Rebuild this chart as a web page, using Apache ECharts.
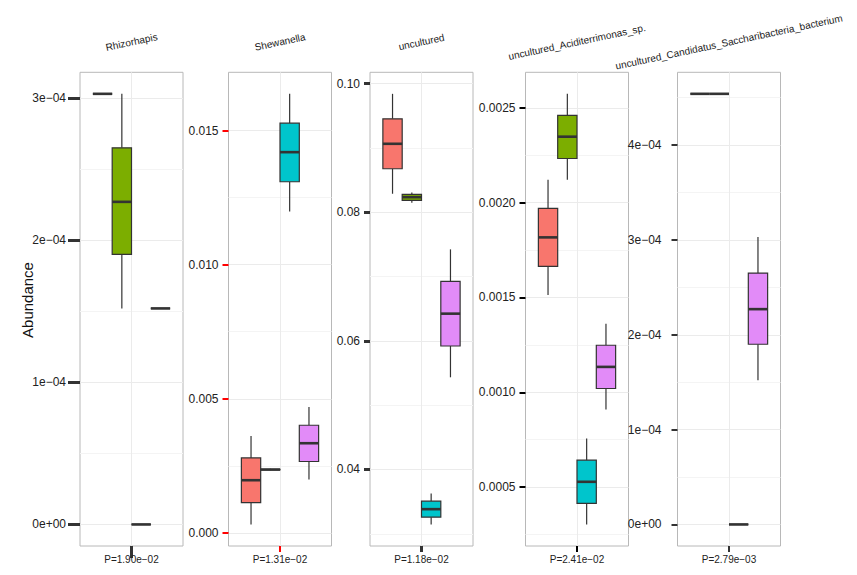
<!DOCTYPE html>
<html>
<head>
<meta charset="utf-8">
<script src="https://cdn.jsdelivr.net/npm/echarts@6/dist/echarts.min.js"></script>
<style>html,body{margin:0;padding:0;background:#fff}#c{width:857px;height:575px}</style>
</head>
<body>
<div id="c"></div>
<script>
// ---------- data ----------
const groups = ['G1', 'G2', 'G3', 'G4'];
const groupColors = ['#F8766D', '#7CAE00', '#00C5CC', '#E28BF8'];
const taxa = ['Rhizorhapis', 'Shewanella', 'uncultured', 'uncultured_Aciditerrimonas_sp.', 'uncultured_Candidatus_Saccharibacteria_bacterium'];
const pLabels = ['P=1.90e\u221202', 'P=1.31e\u221202', 'P=1.18e\u221202', 'P=2.41e\u221202', 'P=2.79e\u221203'];
// each group: [min, Q1, median, Q3, max]
const rhizorhapis = [
  [3.03e-4, 3.03e-4, 3.03e-4, 3.03e-4, 3.03e-4],
  [1.52e-4, 1.90e-4, 2.27e-4, 2.65e-4, 3.03e-4],
  [0, 0, 0, 0, 0],
  [1.52e-4, 1.52e-4, 1.52e-4, 1.52e-4, 1.52e-4]
];
const shewanella = [
  [0.000313, 0.001131, 0.001963, 0.002794, 0.003614],
  [0.00233, 0.00235, 0.00236, 0.00237, 0.00239],
  [0.011986, 0.013092, 0.014195, 0.015276, 0.01637],
  [0.00199, 0.00266, 0.003342, 0.004013, 0.004694]
];
const uncultured = [
  [0.08289, 0.08678, 0.09066, 0.09455, 0.09843],
  [0.0815, 0.08185, 0.08236, 0.08278, 0.0831],
  [0.03145, 0.03259, 0.03383, 0.03507, 0.03627],
  [0.05434, 0.05921, 0.06424, 0.06926, 0.07424]
];
const aciditerrimonas = [
  [0.001513, 0.001664, 0.001817, 0.00197, 0.002121],
  [0.002121, 0.002233, 0.002348, 0.00246, 0.002574],
  [0.000303, 0.000414, 0.000528, 0.000642, 0.000757],
  [0.000909, 0.00102, 0.001134, 0.001248, 0.001362]
];
const saccharibacteria = [
  [4.54e-4, 4.54e-4, 4.54e-4, 4.54e-4, 4.54e-4],
  [4.54e-4, 4.54e-4, 4.54e-4, 4.54e-4, 4.54e-4],
  [0, 0, 0, 0, 0],
  [1.52e-4, 1.90e-4, 2.27e-4, 2.65e-4, 3.03e-4]
];
const panelData = [rhizorhapis, shewanella, uncultured, aciditerrimonas, saccharibacteria];
const tickValues = [
  [0, 1e-4, 2e-4, 3e-4],
  [0, 0.005, 0.010, 0.015],
  [0.04, 0.06, 0.08, 0.10],
  [0.0005, 0.0010, 0.0015, 0.0020, 0.0025],
  [0, 1e-4, 2e-4, 3e-4, 4e-4]
];
const tickLabels = [
  ['0e+00', '1e\u221204', '2e\u221204', '3e\u221204'],
  ['0.000', '0.005', '0.010', '0.015'],
  ['0.04', '0.06', '0.08', '0.10'],
  ['0.0005', '0.0010', '0.0015', '0.0020', '0.0025'],
  ['0e+00', '1e\u221204', '2e\u221204', '3e\u221204', '4e\u221204']
];
const minorValues = [
  [0.5e-4, 1.5e-4, 2.5e-4],
  [0.0025, 0.0075, 0.0125],
  [0.03, 0.05, 0.07, 0.09],
  [0.00025, 0.00075, 0.00125, 0.00175, 0.00225],
  [0.5e-4, 1.5e-4, 2.5e-4, 3.5e-4, 4.5e-4]
];

// ---------- layout ----------
const FONT = '"Liberation Sans", Arial, Helvetica, sans-serif';
const panelLeft = [80, 228.5, 370, 525.5, 677.5];
const panelW = 103, panelTop = 72.3, panelH = 473.7;
const lineCol = '#333333';
const borderCol = '#b8b8b8';
// per-panel tick style trials: [color, length, width, labelMargin]
const trial = [['#333333', 12, 3, 14], ['red', 6, 2, 10], ['#333333', 6, 3, 10], ['black', 6, 2, 10], ['#333333', 6, 2, 16]];

const grid = [], xAxis = [], yAxis = [], series = [];
panelData.forEach((pd, i) => {
  const all = pd.flat();
  const lo = Math.min(...all), hi = Math.max(...all), pad = (hi - lo) * 0.05;
  const ymin = lo - pad, ymax = hi + pad;
  const L = panelLeft[i];
  const [tc, tlen, tw, tm] = trial[i];
  grid.push({left: L, top: panelTop, width: panelW, height: panelH, show: true, borderColor: borderCol, borderWidth: 1});
  grid.push({left: L + panelW * 0.15 / 1.2, top: panelTop, width: panelW * 0.9 / 1.2, height: panelH, show: false});
  xAxis.push({gridIndex: 2 * i, type: 'value', min: -1, max: 1, position: 'bottom',
    axisLine: {show: false, onZero: false},
    axisTick: {show: true, length: tlen, customValues: [0], lineStyle: {color: tc, width: tw}},
    axisLabel: {customValues: [0], formatter: () => pLabels[i], margin: 8, fontSize: 10, color: '#222', fontFamily: FONT},
    splitLine: {show: true, lineStyle: {color: '#ebebeb', width: 1}}});
  xAxis.push({gridIndex: 2 * i + 1, type: 'category', data: groups, show: false, axisLine: {onZero: false}});
  const tv = tickValues[i], tl = tickLabels[i];
  yAxis.push({gridIndex: 2 * i, type: 'value', min: ymin, max: ymax, position: 'left',
    axisLine: {show: false, onZero: false},
    axisTick: {show: true, length: tlen, customValues: tv, lineStyle: {color: tc, width: tw}},
    axisLabel: {customValues: tv, margin: tm, fontSize: 12, color: '#222', fontFamily: FONT,
      formatter: (v) => { let b = 0; tv.forEach((t, k) => { if (Math.abs(t - v) < Math.abs(tv[b] - v)) b = k; }); return tl[b]; }},
    splitLine: {show: true, lineStyle: {color: '#ebebeb', width: 1}}});
  yAxis.push({gridIndex: 2 * i, type: 'value', min: ymin, max: ymax, position: 'left',
    axisLine: {show: false, onZero: false},
    axisTick: {show: false, customValues: minorValues[i]},
    axisLabel: {show: false, customValues: minorValues[i]},
    splitLine: {show: true, lineStyle: {color: '#f4f4f4', width: 1}}});
  yAxis.push({gridIndex: 2 * i + 1, type: 'value', min: ymin, max: ymax, show: false, axisLine: {onZero: false}});
  series.push({
    type: 'custom', xAxisIndex: 2 * i + 1, yAxisIndex: 3 * i + 2,
    data: pd.map((g, gi) => [gi, ...g]),
    encode: {x: 0, y: [1, 2, 3, 4, 5]},
    renderItem: (params, api) => {
      const xi = api.value(0);
      const bw = api.size([1, 0])[0];
      const pMin = api.coord([xi, api.value(1)]);
      const pQ1 = api.coord([xi, api.value(2)]);
      const pMed = api.coord([xi, api.value(3)]);
      const pQ3 = api.coord([xi, api.value(4)]);
      const pMax = api.coord([xi, api.value(5)]);
      const cx = pMed[0], h = bw / 2;
      const thin = {stroke: lineCol, lineWidth: 1.2};
      return {type: 'group', children: [
        {type: 'line', shape: {x1: cx, y1: pQ3[1], x2: cx, y2: pMax[1]}, style: thin},
        {type: 'line', shape: {x1: cx, y1: pQ1[1], x2: cx, y2: pMin[1]}, style: thin},
        {type: 'rect', shape: {x: cx - h, y: pQ3[1], width: bw, height: pQ1[1] - pQ3[1]},
          style: {fill: groupColors[xi], stroke: lineCol, lineWidth: 1.2}},
        {type: 'line', shape: {x1: cx - h, y1: pMed[1], x2: cx + h, y2: pMed[1]}, style: {stroke: lineCol, lineWidth: 2.6}}
      ]};
    }
  });
});

const graphic = taxa.map((t, i) => ({
  type: 'text', x: panelLeft[i] + panelW / 2, y: 42, rotation: 12 * Math.PI / 180,
  style: {text: t, fontSize: 10, fontFamily: FONT, fill: '#1a1a1a', align: 'center', verticalAlign: 'middle'}
}));
graphic.push({type: 'text', x: 27, y: 300, rotation: Math.PI / 2,
  style: {text: 'Abundance', fontSize: 15, fontFamily: FONT, fill: '#111', align: 'center', verticalAlign: 'middle'}});

const chart = echarts.init(document.getElementById('c'), null, {renderer: 'svg'});
chart.setOption({animation: false, backgroundColor: '#ffffff', grid, xAxis, yAxis, series, graphic});
</script>
</body>
</html>
